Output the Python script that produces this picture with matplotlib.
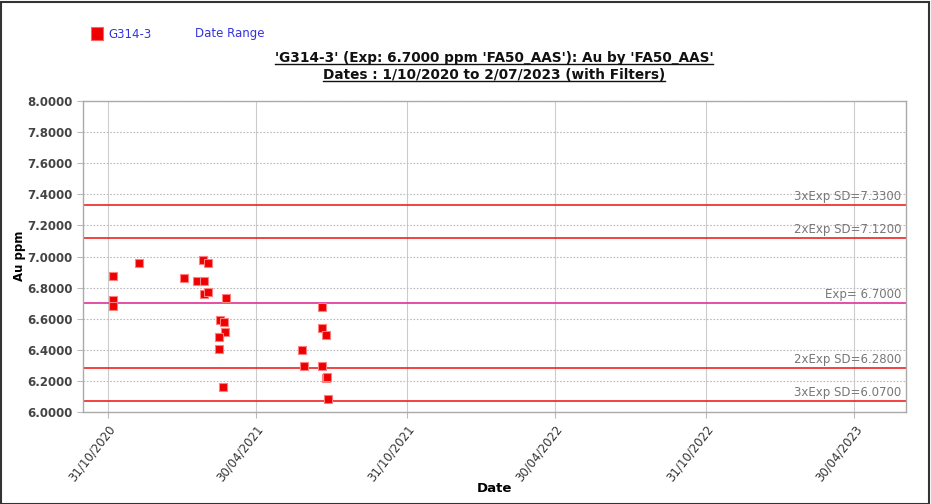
import matplotlib
matplotlib.use("Agg")
import matplotlib.pyplot as plt
import pandas as pd
from matplotlib.patches import Rectangle
from matplotlib.lines import Line2D

# ---- data ----
sample_dates = ["2020-11-06", "2020-11-07", "2020-11-07", "2020-12-08", "2021-02-01",
                "2021-02-17", "2021-02-26", "2021-02-25", "2021-03-02", "2021-02-26",
                "2021-03-03", "2021-03-24", "2021-03-17", "2021-03-22", "2021-03-23",
                "2021-03-16", "2021-03-16", "2021-03-21",
                "2021-06-25", "2021-06-27", "2021-07-19", "2021-07-19", "2021-07-25",
                "2021-07-19", "2021-07-24", "2021-07-26", "2021-07-27"]
au_ppm = [6.875, 6.72, 6.68, 6.96, 6.86,
          6.845, 6.84, 6.98, 6.96, 6.76,
          6.77, 6.73, 6.59, 6.577, 6.515,
          6.484, 6.407, 6.161,
          6.399, 6.298, 6.673, 6.538, 6.495,
          6.298, 6.217, 6.222, 6.084]
ref_values = [7.33, 7.12, 6.70, 6.28, 6.07]
ref_labels = ["3xExp SD=7.3300", "2xExp SD=7.1200", "Exp= 6.7000",
              "2xExp SD=6.2800", "3xExp SD=6.0700"]
ref_colors = ["#ee2222", "#ee2222", "#e0309a", "#ee2222", "#ee2222"]
x_ticks = ["2020-10-31", "2021-04-30", "2021-10-31", "2022-04-30", "2022-10-31", "2023-04-30"]
x_range = ["2020-10-01", "2023-07-02"]
y_ticks = [6.0, 6.2, 6.4, 6.6, 6.8, 7.0, 7.2, 7.4, 7.6, 7.8, 8.0]
title_lines = ["'G314-3' (Exp: 6.7000 ppm 'FA50_AAS'): Au by 'FA50_AAS'",
               "Dates : 1/10/2020 to 2/07/2023 (with Filters)"]

W, H = 931, 504
fig = plt.figure(figsize=(W / 100, H / 100), dpi=100)
fig.patch.set_facecolor("white")
ax = fig.add_axes([83 / W, (H - 412) / H, (906 - 83) / W, (412 - 101) / H])

font = "DejaVu Sans"
dates = pd.to_datetime(sample_dates)
ax.set_xlim(pd.to_datetime(x_range[0]), pd.to_datetime(x_range[1]))
ax.set_ylim(6.0, 8.0)

for v, c in zip(ref_values, ref_colors):
    ax.axhline(v, color=c, lw=1.2, zorder=2)
for v, lab in zip(ref_values, ref_labels):
    ax.text(0.994, v + 0.014, lab, transform=ax.get_yaxis_transform(),
            ha="right", va="bottom", fontsize=8.5, color="#777777", family=font)

ax.scatter(dates, au_ppm, marker="s", s=36, facecolor="#ee0000",
           edgecolor="#ff8080", linewidths=0.8, zorder=4)

ax.set_yticks(y_ticks)
ax.set_yticklabels([f"{v:.4f}" for v in y_ticks], fontsize=8.5, color="#444444",
                   family=font, fontweight="bold")
xt = pd.to_datetime(x_ticks)
ax.set_xticks(xt)
ax.set_xticklabels([d.strftime("%d/%m/%Y") for d in xt], rotation=52, ha="right",
                   rotation_mode="anchor", fontsize=8.5, color="#333333", family=font)
ax.tick_params(axis="both", length=4, color="#bbbbbb", width=0.8)

ax.grid(axis="y", color="#bbbbbb", linestyle=(0, (1.5, 1.5)), lw=0.8, zorder=0)
ax.grid(axis="x", color="#cccccc", linestyle="-", lw=0.8, zorder=0)
for s in ax.spines.values():
    s.set_color("#aaaaaa")
    s.set_linewidth(1.0)

fig.text(20 / W, 1 - 256 / H, "Au ppm", ha="center", va="center", rotation=90,
         fontsize=8.5, fontweight="bold", family=font)
fig.text(494 / W, 1 - 488 / H, "Date", ha="center", va="center", fontsize=9.5,
         fontweight="bold", family=font)

# title with underline
title_texts = []
for i, line in enumerate(title_lines):
    t = fig.text(494 / W, 1 - (58 + 17 * i) / H, line, ha="center", va="center",
                 fontsize=9.8, fontweight="bold", family=font, color="#111111")
    title_texts.append(t)
fig.canvas.draw()
r = fig.canvas.get_renderer()
for t in title_texts:
    bb = t.get_window_extent(r)
    y = bb.y0 + 1
    fig.add_artist(Line2D([bb.x0 / W, bb.x1 / W], [y / H, y / H], color="#111111", lw=1.0))

# legend
fig.add_artist(Rectangle((91 / W, 1 - 40 / H), 12 / W, 13 / H, facecolor="#ee0000",
                         edgecolor="#ff6060", lw=0.8))
fig.text(108 / W, 1 - 34 / H, "G314-3", ha="left", va="center", fontsize=8.5,
         color="#3333dd", family=font)
fig.text(195 / W, 1 - 34 / H, "Date Range", ha="left", va="center", fontsize=8.5,
         color="#3333dd", family=font)

# outer frame
fig.add_artist(Rectangle((1 / W, 0), (W - 3) / W, (H - 2) / H, fill=False,
                         edgecolor="#333333", lw=1.5))

fig.savefig("out.png", dpi=100)
